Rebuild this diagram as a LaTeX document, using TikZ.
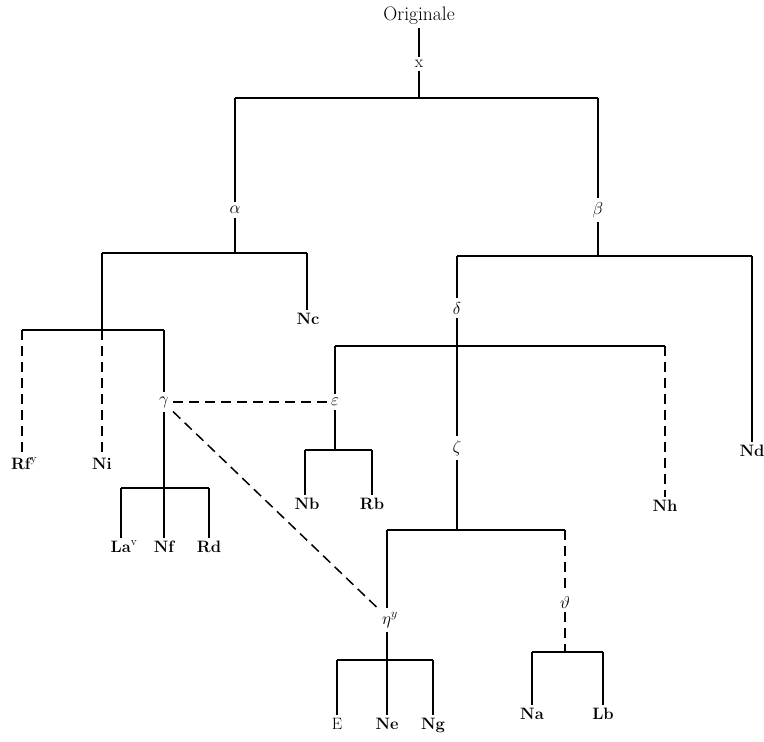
\documentclass[tikz,border=0pt]{standalone}
\usepackage{fontspec}
\begin{document}
\begin{tikzpicture}[x=1pt,y=-1pt,
  lbl/.style={inner sep=3pt, font=\fontsize{19.5}{22}\selectfont},
  leaf/.style={inner sep=3pt, font=\fontsize{16.5}{19}\selectfont\bfseries, text height=11pt, text depth=3pt},
  grk/.style={inner sep=4pt, font=\fontsize{17}{20}\selectfont},
  ln/.style={line width=1.6pt},
  dsh/.style={line width=1.5pt, dash pattern=on 10pt off 6pt}]
\useasboundingbox (0,0) rectangle (764,742);
% labels
\node[lbl] (orig) at (419,16) {Originale};
\node[lbl,font=\fontsize{17}{20}\selectfont] (x) at (419,64) {x};
\node[grk] (alpha) at (235,210) {$\alpha$};
\node[grk] (beta) at (598,210) {$\beta$};
\node[leaf] (Nc) at (308,320) {Nc};
\node[leaf] (Rf) at (24,465) {Rf\textsuperscript{\normalfont y}};
\node[leaf] (Ni) at (102,465) {Ni};
\node[grk] (gamma) at (164,402) {$\gamma$};
\node[leaf] (La) at (124,548) {La\textsuperscript{\normalfont v}};
\node[leaf] (Nf) at (164,548) {Nf};
\node[leaf] (Rd) at (209,548) {Rd};
\node[grk] (eps) at (335,402) {$\varepsilon$};
\node[leaf] (Nb) at (307,505) {Nb};
\node[leaf] (Rb) at (372,505) {Rb};
\node[grk] (delta) at (457,308) {$\delta$};
\node[grk] (zeta) at (457,448) {$\zeta$};
\node[leaf] (Nh) at (665,507) {Nh};
\node[leaf] (Nd) at (752,452) {Nd};
\node[grk] (eta) at (390,620) {$\eta^{y}$};
\node[grk] (theta) at (565,602) {$\vartheta$};
\node[leaf,font=\fontsize{16.5}{19}\selectfont] (E) at (337,725) {E};
\node[leaf] (Ne) at (387,725) {Ne};
\node[leaf] (Ng) at (433,725) {Ng};
\node[leaf] (Na) at (532,715) {Na};
\node[leaf] (Lb) at (603,715) {Lb};
% junctions
\coordinate (jx) at (419,98); \coordinate (tl) at (235,98); \coordinate (tr) at (598,98);
\coordinate (ja) at (235,253); \coordinate (al) at (102,253); \coordinate (ar) at (307,253);
\coordinate (jl) at (102,330); \coordinate (ll) at (22,330); \coordinate (lr) at (164,330);
\coordinate (jg) at (164,488); \coordinate (gl) at (121,488); \coordinate (gr) at (209,488);
\coordinate (jb) at (598,256); \coordinate (bl) at (457,256); \coordinate (br) at (752,256);
\coordinate (jd) at (457,346); \coordinate (dl) at (335,346); \coordinate (dr) at (665,346);
\coordinate (je) at (335,450); \coordinate (el) at (305,450); \coordinate (er) at (372,450);
\coordinate (jz) at (457,530); \coordinate (zl) at (387,530); \coordinate (zr) at (565,530);
\coordinate (jh) at (387,660); \coordinate (hl) at (337,660); \coordinate (hr) at (433,660);
\coordinate (jt) at (565,652); \coordinate (ql) at (532,652); \coordinate (qr) at (603,652);
% solid lines
\draw[ln] (orig) -- (x);
\draw[ln] (x) -- (jx);
\draw[ln] (tl) -- (tr);
\draw[ln] (tl) -- (alpha);
\draw[ln] (tr) -- (beta);
\draw[ln] (alpha) -- (ja);
\draw[ln] (beta) -- (jb);
\draw[ln] (al) -- (ar);
\draw[ln] (ar) -- (Nc.north -| ar);
\draw[ln] (al) -- (jl);
\draw[ln] (ll) -- (lr);
\draw[ln] (lr) -- (gamma);
\draw[ln] (gamma) -- (jg);
\draw[ln] (gl) -- (gr);
\draw[ln] (gl) -- (La.north -| gl);
\draw[ln] (jg) -- (Nf);
\draw[ln] (gr) -- (Rd);
\draw[ln] (bl) -- (br);
\draw[ln] (br) -- (Nd);
\draw[ln] (bl) -- (delta);
\draw[ln] (delta) -- (jd);
\draw[ln] (dl) -- (dr);
\draw[ln] (dl) -- (eps);
\draw[ln] (eps) -- (je);
\draw[ln] (el) -- (er);
\draw[ln] (el) -- (Nb.north -| el);
\draw[ln] (er) -- (Rb);
\draw[ln] (jd) -- (zeta);
\draw[ln] (zeta) -- (jz);
\draw[ln] (zl) -- (zr);
\draw[ln] (zl) -- (eta.north -| zl);
\draw[ln] (eta.south -| jh) -- (jh);
\draw[ln] (hl) -- (hr);
\draw[ln] (hl) -- (E);
\draw[ln] (jh) -- (Ne);
\draw[ln] (hr) -- (Ng);
\draw[ln] (ql) -- (qr);
\draw[ln] (ql) -- (Na);
\draw[ln] (qr) -- (Lb);
% dashed lines
\draw[dsh] (ll) -- (Rf.north -| ll);
\draw[dsh] (jl) -- (Ni);
\draw[dsh] (dr) -- (Nh);
\draw[dsh] (zr) -- (theta);
\draw[dsh] (theta) -- (jt);
\draw[dsh] (gamma) -- (eps);
\draw[dsh] (gamma.south east) -- (eta.north west);
\end{tikzpicture}
\end{document}
